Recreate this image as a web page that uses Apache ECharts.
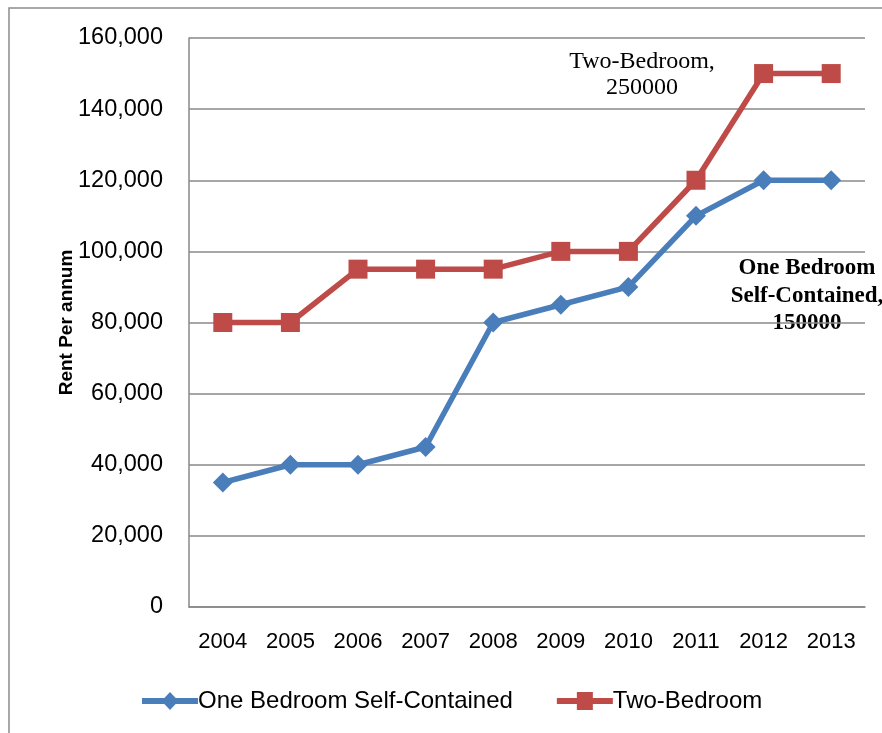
<!DOCTYPE html>
<html>
<head>
<meta charset="utf-8">
<script src="https://cdn.jsdelivr.net/npm/echarts@6/dist/echarts.min.js"></script>
<style>
  html, body { margin: 0; padding: 0; background: #fff; }
  #chart { width: 882px; height: 733px; }
</style>
</head>
<body>
<div id="chart"></div>
<script>
// Annual rent by year
const years = ['2004', '2005', '2006', '2007', '2008', '2009', '2010', '2011', '2012', '2013'];
const oneBedroom = [35000, 40000, 40000, 45000, 80000, 85000, 90000, 110000, 120000, 120000];
const twoBedroom = [80000, 80000, 95000, 95000, 95000, 100000, 100000, 120000, 150000, 150000];
const seriesNames = ['One Bedroom Self-Contained', 'Two-Bedroom'];
const yTicks = { min: 0, max: 160000, interval: 20000 };

const BLUE = '#4A7EBB';
const RED = '#BE4B48';
const SANS = '"Liberation Sans", Arial, sans-serif';
const SERIF = '"Liberation Serif", "Times New Roman", serif';

// legend glyphs: thick line segment with the series marker in the middle
const diamondIcon = 'path://M0,6 H56 V12 H0 Z M28,0 L36.5,9 L28,18 L19.5,9 Z';
const squareIcon = 'path://M0,6 H56 V12 H0 Z M20,0 H36 V18 H20 Z';

const chart = echarts.init(document.getElementById('chart'), null, { renderer: 'canvas' });

chart.setOption({
  animation: false,
  backgroundColor: '#fff',
  grid: { left: 189, right: 17, top: 38, bottom: 126, containLabel: false },
  legend: {
    top: 684,
    left: 137,
    itemWidth: 56,
    itemHeight: 18,
    itemGap: 44,
    textStyle: { fontFamily: SANS, fontSize: 24, color: '#000', padding: [0, 0, 0, -5] },
    data: [
      { name: seriesNames[0], icon: diamondIcon },
      { name: seriesNames[1], icon: squareIcon }
    ]
  },
  xAxis: {
    type: 'category',
    data: years,
    boundaryGap: true,
    axisLine: { show: true, lineStyle: { color: '#888', width: 1.5 } },
    axisTick: { show: false },
    axisLabel: { color: '#000', fontFamily: SANS, fontSize: 22, margin: 24 }
  },
  yAxis: {
    type: 'value',
    min: yTicks.min,
    max: yTicks.max,
    interval: yTicks.interval,
    name: 'Rent Per annum',
    nameLocation: 'middle',
    nameGap: 113,
    nameMoveOverlap: false,
    nameTextStyle: { fontFamily: SANS, fontWeight: 'bold', fontSize: 19, color: '#000' },
    axisLine: { show: true, lineStyle: { color: '#888', width: 1.5 } },
    axisTick: { show: false },
    splitLine: { show: true, lineStyle: { color: '#888', width: 1.5 } },
    axisLabel: {
      color: '#000',
      fontFamily: SANS,
      fontSize: 23.5,
      margin: 26,
      formatter: v => v.toLocaleString('en-US')
    }
  },
  series: [
    {
      name: seriesNames[0],
      type: 'line',
      data: oneBedroom,
      symbol: 'diamond',
      symbolSize: 20,
      lineStyle: { color: BLUE, width: 5.5 },
      itemStyle: { color: BLUE }
    },
    {
      name: seriesNames[1],
      type: 'line',
      data: twoBedroom,
      symbol: 'rect',
      symbolSize: 19,
      lineStyle: { color: RED, width: 5.5 },
      itemStyle: { color: RED }
    }
  ],
  graphic: [
    {
      type: 'rect',
      silent: true,
      shape: { x: 9, y: 8, width: 900, height: 760 },
      style: { fill: 'none', stroke: '#8c8c8c', lineWidth: 1.5 }
    },
    {
      type: 'text',
      x: 642, y: 75,
      style: {
        text: 'Two-Bedroom,\n250000',
        align: 'center',
        verticalAlign: 'middle',
        font: '24px ' + SERIF,
        lineHeight: 26,
        fill: '#000'
      }
    },
    {
      type: 'text',
      x: 807, y: 296,
      style: {
        text: 'One Bedroom\nSelf-Contained,\n150000',
        align: 'center',
        verticalAlign: 'middle',
        font: 'bold 23px ' + SERIF,
        lineHeight: 27.5,
        fill: '#000'
      }
    }
  ]
});
</script>
</body>
</html>
